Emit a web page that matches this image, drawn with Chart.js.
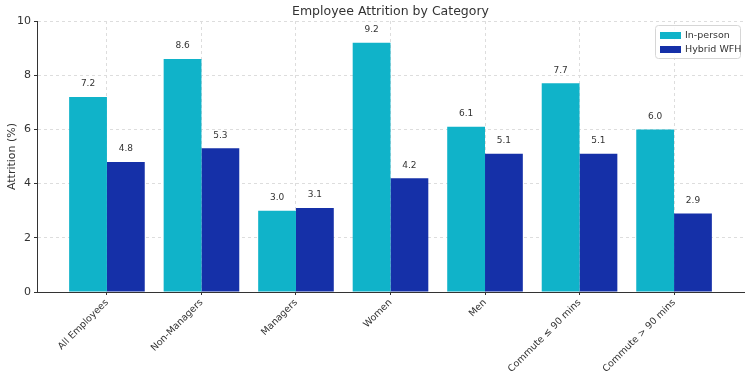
<!DOCTYPE html>
<html>
<head>
<meta charset="utf-8">
<script src="https://cdn.jsdelivr.net/npm/chart.js@4.4.1/dist/chart.umd.min.js"></script>
<style>
    html, body { margin: 0; padding: 0; background: #fff; }
    #wrap { width: 750px; height: 372px; }
</style>
</head>
<body>
<div id="wrap"><canvas id="attritionChart"></canvas></div>
<script>
// Chart data
const categories = ['All Employees', 'Non-Managers', 'Managers', 'Women', 'Men', 'Commute \u2264 90 mins', 'Commute > 90 mins'];
const inPerson = [7.2, 8.6, 3.0, 9.2, 6.1, 7.7, 6.0];
const hybridWfh = [4.8, 5.3, 3.1, 4.2, 5.1, 5.1, 2.9];
const yTicks = [0, 2, 4, 6, 8, 10];

const FONT = "'DejaVu Sans', sans-serif";
const TEXT = '#333333';

// Title drawn over the plot area (matplotlib style)
const titlePlugin = {
    id: 'plotTitle',
    afterDraw(chart) {
        const { ctx, chartArea } = chart;
        ctx.save();
        ctx.font = '12.5px ' + FONT;
        ctx.fillStyle = TEXT;
        ctx.textAlign = 'center';
        ctx.textBaseline = 'bottom';
        ctx.fillText('Employee Attrition by Category', (chartArea.left + chartArea.right) / 2, chartArea.top - 3);
        ctx.restore();
    }
};

// Value labels on top of each bar
const valueLabels = {
    id: 'valueLabels',
    afterDatasetsDraw(chart) {
        const { ctx } = chart;
        ctx.save();
        ctx.font = '9px ' + FONT;
        ctx.fillStyle = TEXT;
        ctx.textAlign = 'center';
        ctx.textBaseline = 'middle';
        chart.data.datasets.forEach((ds, i) => {
            chart.getDatasetMeta(i).data.forEach((bar, j) => {
                ctx.fillText(ds.data[j].y.toFixed(1), bar.x, bar.y - 13);
            });
        });
        ctx.restore();
    }
};

// Legend box inside the top right corner
const legendBox = {
    id: 'legendBox',
    afterDraw(chart) {
        const { ctx, chartArea } = chart;
        const w = 85, h = 33;
        const x = chartArea.right - w - 4, y = chartArea.top + 4;
        ctx.save();
        ctx.fillStyle = 'rgba(255,255,255,0.85)';
        ctx.strokeStyle = '#d6d6d6';
        ctx.lineWidth = 1;
        ctx.beginPath();
        ctx.roundRect(x + 0.5, y + 0.5, w, h, 3);
        ctx.fill();
        ctx.stroke();
        ctx.font = '9.5px ' + FONT;
        ctx.textBaseline = 'middle';
        ctx.textAlign = 'left';
        chart.data.datasets.forEach((ds, i) => {
            const ly = y + 10 + i * 14;
            ctx.fillStyle = ds.backgroundColor;
            ctx.fillRect(x + 5, ly - 3, 21, 7);
            ctx.fillStyle = TEXT;
            ctx.fillText(ds.label, x + 30, ly + 1);
        });
        ctx.restore();
    }
};

const ctx = document.getElementById('attritionChart').getContext('2d');
new Chart(ctx, {
    type: 'bar',
    data: {
        datasets: [{
            label: 'In-person',
            data: inPerson.map((v, i) => ({ x: i, y: v })),
            backgroundColor: '#10b3c9'
        }, {
            label: 'Hybrid WFH',
            data: hybridWfh.map((v, i) => ({ x: i, y: v })),
            backgroundColor: '#1530a8'
        }]
    },
    options: {
        responsive: true,
        maintainAspectRatio: false,
        animation: false,
        layout: { padding: { top: 21, right: 6, left: 0, bottom: 0 } },
        datasets: {
            bar: { categoryPercentage: 0.8, barPercentage: 1.0 }
        },
        plugins: {
            legend: { display: false },
            title: { display: false },
            tooltip: { enabled: false }
        },
        scales: {
            x: {
                type: 'linear',
                offset: false,
                min: -0.74,
                max: 6.74,
                afterBuildTicks: scale => {
                    scale.ticks = categories.map((_, i) => ({ value: i }));
                },
                afterFit: scale => { scale.height = 80; },
                ticks: {
                    autoSkip: false,
                    minRotation: 45,
                    maxRotation: 45,
                    color: TEXT,
                    font: { family: FONT, size: 9.5 },
                    padding: 2,
                    callback: v => categories[v] || ''
                },
                grid: {
                    offset: false,
                    color: '#dddddd',
                    tickColor: '#333333',
                    tickLength: 3
                },
                border: { display: true, color: '#333333', dash: [3, 3], width: 1 }
            },
            y: {
                min: 0,
                max: 10,
                afterBuildTicks: scale => {
                    scale.ticks = yTicks.map(v => ({ value: v }));
                },
                afterFit: scale => { scale.width = 37; },
                title: {
                    display: true,
                    text: 'Attrition (%)',
                    color: TEXT,
                    font: { family: FONT, size: 11 },
                    padding: { top: 6, bottom: 2 }
                },
                ticks: {
                    color: TEXT,
                    font: { family: FONT, size: 11 },
                    padding: 3
                },
                grid: {
                    color: '#dddddd',
                    tickColor: '#333333',
                    tickLength: 3
                },
                border: { display: true, color: '#333333', dash: [3, 3], width: 1 }
            }
        }
    },
    plugins: [titlePlugin, valueLabels, legendBox]
});
</script>
</body>
</html>
